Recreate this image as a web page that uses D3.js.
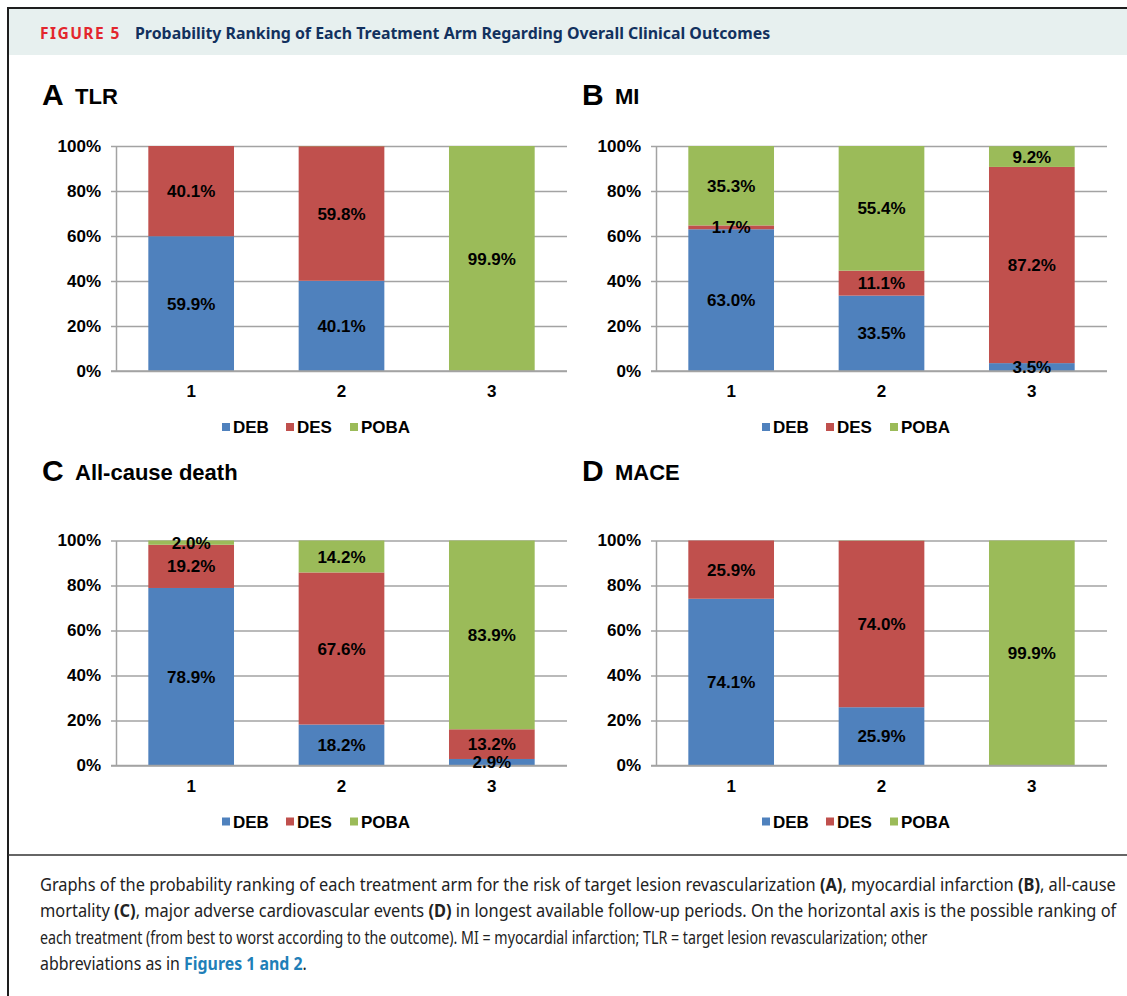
<!DOCTYPE html>
<html>
<head>
<meta charset="utf-8">
<script src="https://cdn.jsdelivr.net/npm/d3@7"></script>
<style>
body { margin: 0; background: #fff; }
svg { font-family: "Liberation Sans", Arial, sans-serif; }
</style>
</head>
<body>
<svg id="fig" width="1127" height="996"></svg>
<script>
// categories
const ranks = ["1", "2", "3"]
const arms = ["DEB", "DES", "POBA"]
const armColors = ["#4f81bd", "#c0504d", "#9bbb59"]
const yTicks = [0, 20, 40, 60, 80, 100]

// A - TLR
const tlrDEB = [59.9, 40.1, 0]
const tlrDES = [40.1, 59.8, 0.1]
const tlrPOBA = [0, 0.1, 99.9]
// B - MI
const miDEB = [63.0, 33.5, 3.5]
const miDES = [1.7, 11.1, 87.2]
const miPOBA = [35.3, 55.4, 9.2]
// C - all-cause death
const deathDEB = [78.9, 18.2, 2.9]
const deathDES = [19.2, 67.6, 13.2]
const deathPOBA = [2.0, 14.2, 83.9]
// D - MACE
const maceDEB = [74.1, 25.9, 0]
const maceDES = [25.9, 74.0, 0.1]
const macePOBA = [0, 0.1, 99.9]

const captionLines = [
  [["Graphs of the probability ranking of each treatment arm for the risk of target lesion revascularization ", 0], ["(A)", 1], [", myocardial infarction ", 0], ["(B)", 1], [", all-cause", 0]],
  [["mortality ", 0], ["(C)", 1], [", major adverse cardiovascular events ", 0], ["(D)", 1], [" in longest available follow-up periods. On the horizontal axis is the possible ranking of", 0]],
  [["each treatment (from best to worst according to the outcome). MI = myocardial infarction; TLR = target lesion revascularization; other", 0]],
  [["abbreviations as in ", 0], ["Figures 1 and 2", 2], [".", 0]]
]

const svg = d3.select("#fig")
const noto = "'Noto Sans', 'Open Sans', sans-serif"

// squeeze a text horizontally so it spans a given width
function fitWidth(t, x, y, w) {
  const n = t.node().getComputedTextLength()
  t.attr("transform", `translate(${x},${y}) scale(${w / n},1)`)
}

// frame + header band
svg.append("rect").attr("x", 9).attr("y", 9).attr("width", 1127).attr("height", 46).attr("fill", "#e7f0ef")
svg.append("line").attr("x1", 8).attr("x2", 1127).attr("y1", 8).attr("y2", 8).attr("stroke", "#1e1e1e").attr("stroke-width", 2)
svg.append("line").attr("x1", 8).attr("x2", 8).attr("y1", 7).attr("y2", 996).attr("stroke", "#1e1e1e").attr("stroke-width", 2)
svg.append("line").attr("x1", 8).attr("x2", 1127).attr("y1", 855).attr("y2", 855).attr("stroke", "#333").attr("stroke-width", 1.5)

let fig = svg.append("text").style("font-family", noto).attr("font-weight", "bold")
  .attr("font-size", 16).attr("fill", "#e3262d").attr("letter-spacing", 1.5).text("FIGURE 5")
fitWidth(fig, 40, 39, 81)
let ttl = svg.append("text").style("font-family", noto).attr("font-weight", "bold")
  .attr("font-size", 16).attr("fill", "#12315e")
  .text("Probability Ranking of Each Treatment Arm Regarding Overall Clinical Outcomes")
fitWidth(ttl, 135, 39, 636)

function panel(letter, name, deb, des, poba, axisX, right, yTop, yBot, titleY) {
  const g = svg.append("g")
  const rows = ranks.map((r, i) => ({ rank: r, DEB: deb[i], DES: des[i], POBA: poba[i] }))
  const series = d3.stack().keys(arms)(rows)

  const x = d3.scaleBand().domain(ranks).range([axisX, right]).paddingInner(0.43).paddingOuter(0.215)
  const y = d3.scaleLinear().domain([0, 100]).range([yBot, yTop]).clamp(true)

  // title
  g.append("text").attr("x", axisX - 74).attr("y", titleY).attr("font-size", 30).attr("font-weight", "bold").text(letter)
  g.append("text").attr("x", axisX - 41).attr("y", titleY - 1).attr("font-size", 22).attr("font-weight", "bold").text(name)

  // gridlines
  g.append("g").attr("transform", `translate(${axisX},0)`)
    .call(d3.axisLeft(y).tickValues(yTicks).tickSize(-(right - axisX)).tickFormat(""))
    .call(a => a.select(".domain").remove())
    .selectAll("line").attr("stroke", "#a3a3a3").attr("stroke-width", 1.5)

  // y axis
  const ya = g.append("g").attr("transform", `translate(${axisX},0)`)
    .call(d3.axisLeft(y).tickValues(yTicks).tickSize(5).tickSizeOuter(0).tickPadding(10).tickFormat(d => d + "%"))
  ya.select(".domain").attr("stroke", "#a3a3a3").attr("stroke-width", 1.5)
  ya.selectAll("line").attr("stroke", "#a3a3a3").attr("stroke-width", 1.5)
  ya.selectAll("text").attr("font-size", 17).attr("font-weight", "bold").attr("font-family", null).attr("fill", "#000")

  // bars
  series.forEach((s, k) => {
    g.append("g").attr("fill", armColors[k]).selectAll("rect").data(s).join("rect")
      .attr("x", d => x(d.data.rank)).attr("width", x.bandwidth())
      .attr("y", d => y(d[1])).attr("height", d => y(d[0]) - y(d[1]))
  })

  // x axis line on top of bars
  g.append("line").attr("x1", axisX - 5).attr("x2", right).attr("y1", y(0)).attr("y2", y(0))
    .attr("stroke", "#a3a3a3").attr("stroke-width", 1.5)

  // value labels
  series.forEach(s => {
    g.append("g").selectAll("text").data(s.filter(d => d[1] - d[0] >= 1)).join("text")
      .attr("x", d => x(d.data.rank) + x.bandwidth() / 2)
      .attr("y", d => y((d[0] + d[1]) / 2)).attr("dy", "0.36em")
      .attr("text-anchor", "middle").attr("font-size", 17).attr("font-weight", "bold")
      .text(d => (d[1] - d[0]).toFixed(1) + "%")
  })

  // category labels
  const xa = g.append("g").attr("transform", `translate(0,${yBot})`)
    .call(d3.axisBottom(x).tickSize(0).tickPadding(14))
  xa.select(".domain").remove()
  xa.selectAll("text").attr("font-size", 17).attr("font-weight", "bold").attr("font-family", null).attr("fill", "#000")

  // legend
  const lg = g.append("g").attr("transform", `translate(${axisX + 106},${yBot + 56})`)
  arms.forEach((a, k) => {
    lg.append("rect").attr("x", k * 64).attr("y", -4).attr("width", 8).attr("height", 8).attr("fill", armColors[k])
    lg.append("text").attr("x", k * 64 + 11).attr("y", 6).attr("font-size", 17).attr("font-weight", "bold").text(a)
  })
}

panel("A", "TLR", tlrDEB, tlrDES, tlrPOBA, 116, 567, 146, 371, 105)
panel("B", "MI", miDEB, miDES, miPOBA, 656, 1107, 146, 371, 105)
panel("C", "All-cause death", deathDEB, deathDES, deathPOBA, 116, 567, 540.5, 765.5, 481)
panel("D", "MACE", maceDEB, maceDES, macePOBA, 656, 1107, 540.5, 765.5, 481)

// caption, each line fitted to its width in the figure
const lineEnds = [1117, 1117, 928, 307]
captionLines.forEach((parts, i) => {
  const t = svg.append("text").style("font-family", noto).attr("font-size", 17.5).attr("fill", "#222")
  parts.forEach(([s, kind]) => {
    t.append("tspan").text(s)
      .attr("font-weight", kind ? "bold" : null)
      .attr("fill", kind === 2 ? "#1f7fb8" : null)
  })
  fitWidth(t, 40, 891 + i * 26.3, lineEnds[i] - 40)
})
</script>
</body>
</html>
